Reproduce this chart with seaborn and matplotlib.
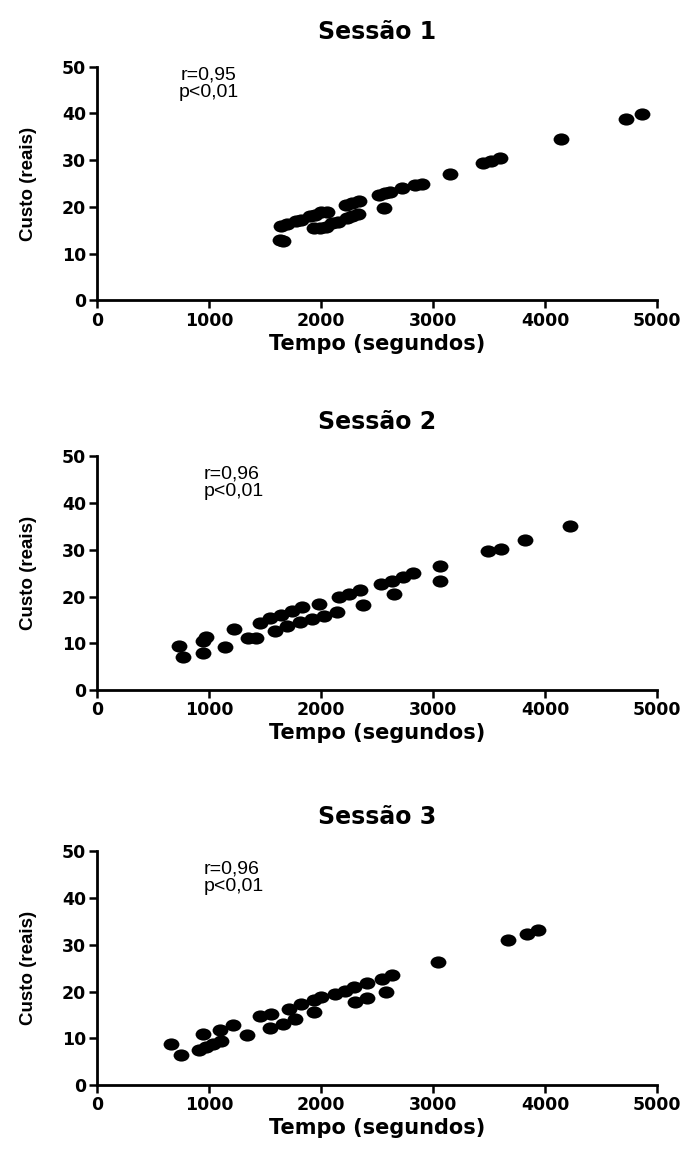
import matplotlib
matplotlib.use("Agg")
import matplotlib.pyplot as plt
from matplotlib.path import Path
import seaborn as sns
import pandas as pd

sns.set_style("ticks")
plt.rcParams["font.family"] = ["Liberation Sans", "DejaVu Sans"]
plt.rcParams["text.color"] = "black"
plt.rcParams["axes.labelcolor"] = "black"
plt.rcParams["xtick.color"] = "black"
plt.rcParams["ytick.color"] = "black"

# Sessão 1
tempo_s1 = [1630, 1660, 1640, 1700, 1780, 1820, 1900, 1950, 2000, 2050, 1940, 1990,
            2040, 2100, 2150, 2230, 2280, 2330, 2220, 2280, 2340, 2560, 2520, 2570,
            2620, 2720, 2840, 2900, 3150, 3450, 3520, 3600, 4140, 4720, 4870]
custo_s1 = [13.0, 12.8, 16.0, 16.3, 17.0, 17.3, 18.0, 18.3, 18.9, 19.0, 15.6, 15.5,
            15.8, 16.5, 16.8, 17.6, 18.0, 18.4, 20.4, 20.8, 21.3, 19.8, 22.5, 22.9,
            23.3, 24.0, 24.8, 24.9, 27.0, 29.4, 29.8, 30.5, 34.5, 38.8, 39.9]

# Sessão 2
tempo_s2 = [736, 771, 942, 942, 976, 1140, 1226, 1346, 1421, 1455, 1541, 1640,
            1740, 1832, 1592, 1695, 1815, 1920, 2030, 2140, 1986, 2157, 2250, 2346,
            2373, 2534, 2630, 2730, 2825, 2654, 3065, 3058, 3493, 3606, 3818, 4222]
custo_s2 = [9.4, 7.0, 8.0, 10.5, 11.3, 9.3, 13.1, 11.2, 11.2, 14.3, 15.4, 16.0,
            17.0, 17.7, 12.6, 13.6, 14.5, 15.2, 15.8, 16.6, 18.5, 19.8, 20.6, 21.3,
            18.2, 22.7, 23.4, 24.2, 25.0, 20.6, 26.6, 23.3, 29.7, 30.1, 32.2, 35.1]

# Sessão 3
tempo_s3 = [658, 747, 942, 908, 975, 1040, 1106, 1096, 1216, 1336, 1455, 1551,
            1541, 1661, 1712, 1764, 1825, 1935, 1935, 2003, 2123, 2210, 2294, 2305,
            2414, 2414, 2540, 2637, 2579, 3048, 3671, 3836, 3938]
custo_s3 = [8.8, 6.5, 10.9, 7.5, 8.2, 8.8, 9.4, 11.8, 12.9, 10.8, 14.8, 15.3,
            12.2, 13.0, 16.2, 14.1, 17.4, 15.6, 18.3, 18.9, 19.5, 20.2, 20.9, 17.8,
            18.7, 21.8, 22.7, 23.5, 19.9, 26.4, 31.1, 32.4, 33.1]

sessoes = ["Sessão 1", "Sessão 2", "Sessão 3"]
stats = ["r=0,95\np<0,01", "r=0,96\np<0,01", "r=0,96\np<0,01"]
dados = [(tempo_s1, custo_s1), (tempo_s2, custo_s2), (tempo_s3, custo_s3)]

# slightly flattened dots, like the original
circ = Path.unit_circle()
elipse = Path(circ.vertices * [1.3, 1.0], circ.codes)

fig = plt.figure(figsize=(6.88, 11.51), dpi=100)
bottoms = [0.739, 0.4005, 0.0573]
bold = ["DejaVu Sans"]

for i, (tempo, custo) in enumerate(dados):
    ax = fig.add_axes([0.141, bottoms[i], 0.814, 0.203])
    df = pd.DataFrame({"tempo": tempo, "custo": custo})
    sns.scatterplot(data=df, x="tempo", y="custo", ax=ax, color="black",
                    marker=elipse, s=130, edgecolor="black", linewidth=0)
    ax.set_xlim(0, 5000)
    ax.set_ylim(0, 50)
    ax.set_xticks([0, 1000, 2000, 3000, 4000, 5000])
    ax.set_yticks([0, 10, 20, 30, 40, 50])
    ax.set_title(sessoes[i], fontsize=17, fontweight="bold", family=bold, pad=20)
    ax.set_xlabel("Tempo (segundos)", fontsize=15, fontweight="bold",
                  family=bold, labelpad=3)
    ax.set_ylabel("Custo (reais)", fontsize=13.5, fontweight="bold", labelpad=18)
    ax.text(950 if i else 1000, 50 if i == 0 else 48, stats[i], fontsize=14,
            va="top", ha="left" if i else "center", linespacing=1.0)
    for lbl in ax.get_xticklabels() + ax.get_yticklabels():
        lbl.set_fontweight("bold")
        lbl.set_family(bold)
        lbl.set_fontsize(12.5)
    ax.tick_params(width=1.8, length=6, pad=2)
    sns.despine(ax=ax)
    ax.spines["left"].set_linewidth(2)
    ax.spines["bottom"].set_linewidth(2)
    ax.spines["left"].set_color("black")
    ax.spines["bottom"].set_color("black")

fig.savefig("out.png", dpi=100)
